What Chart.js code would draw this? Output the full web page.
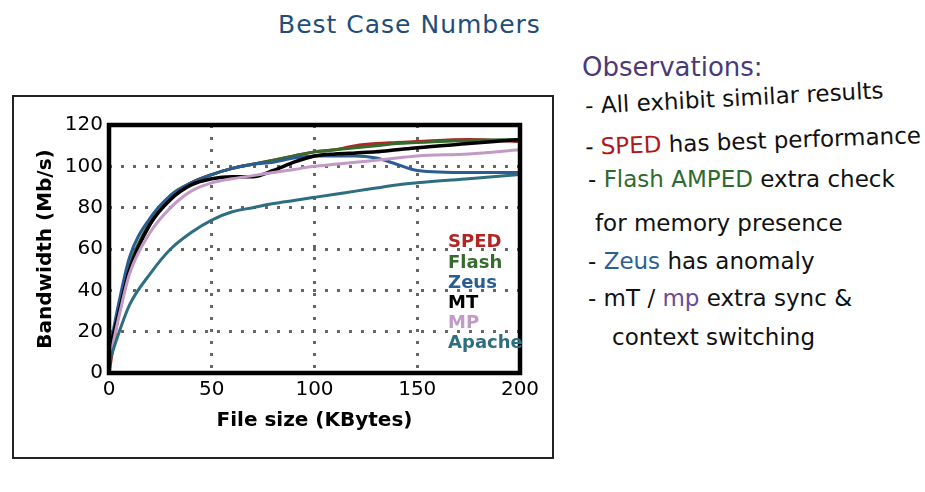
<!DOCTYPE html>
<html><head><meta charset="utf-8">
<script src="https://cdn.jsdelivr.net/npm/chart.js@4"></script>
<style>
body{margin:0;width:925px;height:492px;background:#fff;overflow:hidden;position:relative;font-family:"DejaVu Sans",sans-serif}
#box{position:absolute;left:12px;top:95px;width:538px;height:360px;border:2px solid #222}
canvas{position:absolute;left:0;top:0}
.hw{position:absolute;font-family:"Comic Sans MS","DejaVu Sans",sans-serif;white-space:nowrap;color:#111;font-size:23px}
</style></head><body>
<div id="box"></div>
<div class="hw" style="left:278px;top:10px;color:#1f4e79;font-size:25px;letter-spacing:1px">Best Case Numbers</div>
<div class="hw" style="left:582px;top:52px;color:#4a3a78;font-size:26px">Observations:</div>
<div class="hw" style="left:585px;top:85px;transform:rotate(-3deg)">- All exhibit similar results</div>
<div class="hw" style="left:585px;top:128px;transform:rotate(-2deg)">- <span style="color:#b01818">SPED</span> has best performance</div>
<div class="hw" style="left:588px;top:166px">- <span style="color:#2e6b2e">Flash AMPED</span> extra check</div>
<div class="hw" style="left:595px;top:210px">for memory presence</div>
<div class="hw" style="left:588px;top:248px">- <span style="color:#2b5f94">Zeus</span> has anomaly</div>
<div class="hw" style="left:588px;top:285px">- mT / <span style="color:#6a4a9a">mp</span> extra sync &amp;</div>
<div class="hw" style="left:612px;top:324px">context switching</div>
<canvas id="c" width="925" height="492"></canvas>
<script>
const sizes = [0,5,10,20,30,40,50,60,70,80,90,100,110,120,130,140,150,175,200];
const sped  = [0,30,50,72,85,92,96,99,101,103,105,107,108,110,111,111.5,112,113,112];
const flash = [5,32,52,73,86,92,96,99,101,103,105,107,108,109,110,111,111.5,112.5,113];
const zeus  = [10,35,56,75,86,92,96,99,101,102,104,105,105,105,104,101,98,97,97];
const mt    = [10,30,50,72,84,91,94,95,95,98,102,105,106,106.5,107,108,109,111,113];
const mp    = [5,28,48,68,80,88,92,94,95.5,97,98.5,100,101,102,103,104,105,106,108];
const apache= [5,20,33,48,60,68,74,78,80,82,83.5,85,86.5,88,89.5,91,92,94,96];
const names = ["SPED","Flash","Zeus","MT","MP","Apache"];
const series = [sped,flash,zeus,mt,mp,apache];
const colors = ["#b22525","#356b2c","#2a5d92","#000000","#c39ac6","#2d6e80"];
const xTicks = [0,50,100,150,200];
const yTicks = [0,20,40,60,80,100,120];

const legendPlugin={id:'lg',afterDatasetsDraw(ch){
  const c=ch.ctx;c.save();
  const a=ch.chartArea;c.strokeStyle='#000';c.lineWidth=4.5;c.strokeRect(a.left,a.top,a.right-a.left,a.bottom-a.top);
  c.font='bold 18px "DejaVu Sans"';c.textBaseline='middle';
  const x=ch.scales.x.getPixelForValue(165);
  names.forEach((n,i)=>{c.fillStyle=colors[i];c.fillText(n,x,ch.scales.y.getPixelForValue(63-i*9.7));});
  c.restore();}};
const ds = series.map((s,i)=>({label:names[i],data:s.map((v,j)=>({x:sizes[j],y:v})),borderColor:colors[i],borderWidth:i==3?3.5:3,pointRadius:0,tension:0.4,cubicInterpolationMode:'monotone',fill:false}));
ds.reverse();
new Chart(document.getElementById('c'),{type:'line',data:{datasets:ds},
plugins:[legendPlugin],
options:{responsive:false,animation:false,
layout:{padding:{left:30,top:125,right:405,bottom:55}},
plugins:{legend:{display:false},tooltip:{enabled:false}},
scales:{
x:{type:'linear',min:0,max:200,afterBuildTicks(a){a.ticks=xTicks.map(v=>({value:v}));},
 afterFit(a){a.height=64;},
 border:{display:false,dash:[3,9]},
 grid:{color:'#666',lineWidth:3,drawTicks:false},
 ticks:{color:'#000',font:{size:20,family:'DejaVu Sans'},padding:5},
 title:{display:true,text:'File size (KBytes)',color:'#000',font:{size:20,weight:'bold',family:'DejaVu Sans'},padding:{top:2}}},
y:{min:0,max:120,afterBuildTicks(a){a.ticks=yTicks.map(v=>({value:v}));},
 afterFit(a){a.width=79;},
 border:{display:false,dash:[3,9]},
 grid:{color:'#666',lineWidth:3,drawTicks:false},
 ticks:{color:'#000',font:{size:20,family:'DejaVu Sans'},padding:6},
 title:{display:true,text:'Bandwidth (Mb/s)',color:'#000',font:{size:20,weight:'bold',family:'DejaVu Sans'},padding:{bottom:0}}}
}}});
</script>
</body></html>
